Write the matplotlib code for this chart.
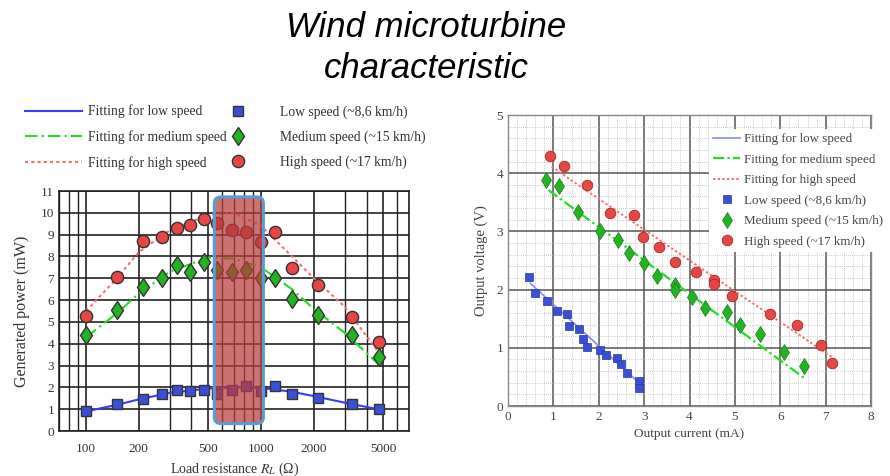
import numpy as np
import matplotlib
matplotlib.use("Agg")
import matplotlib.pyplot as plt
from matplotlib.patches import FancyBboxPatch
from matplotlib.ticker import FixedLocator, NullFormatter, MultipleLocator

plt.rcParams['mathtext.fontset'] = 'stix'

# ---------------- Left chart data ----------------
R = [100, 150, 210, 270, 330, 390, 470, 560, 680, 820, 1000, 1200, 1500, 2100, 3300, 4700]
P_low = [0.92, 1.25, 1.45, 1.71, 1.90, 1.82, 1.90, 1.71, 1.87, 2.05, 1.82, 2.05, 1.71, 1.53, 1.22, 1.02]
P_med = [4.39, 5.53, 6.60, 7.02, 7.60, 7.29, 7.75, 7.40, 7.30, 7.40, 7.03, 7.02, 6.07, 5.34, 4.42, 3.39]
P_high = [5.26, 7.06, 8.70, 8.90, 9.31, 9.43, 9.74, 9.54, 9.20, 9.10, 8.67, 9.13, 7.49, 6.68, 5.23, 4.08]

R_fit = [100, 150, 200, 300, 500, 700, 1000, 1500, 2000, 3000, 5000]
Pfit_low = [0.90, 1.20, 1.45, 1.75, 1.95, 2.00, 1.98, 1.80, 1.60, 1.30, 0.95]
Pfit_med = [4.30, 5.40, 6.30, 7.30, 7.95, 7.90, 7.50, 6.50, 5.60, 4.50, 2.85]
Pfit_high = [5.50, 7.00, 8.20, 9.20, 9.90, 10.00, 9.40, 8.00, 7.00, 5.70, 3.30]

R_ticks = [100, 200, 500, 1000, 2000, 5000]
R_tick_labels = ["100", "200", "500", "1000", "2000", "5000"]
highlight_R = [540, 1030]
highlight_P = [0.34, 10.73]

# ---------------- Right chart data ----------------
I_low = [0.47, 0.60, 0.85, 1.07, 1.31, 1.35, 1.57, 1.66, 1.74, 2.02, 2.16, 2.40, 2.49, 2.62, 2.88, 2.88]
V_low = [2.22, 1.95, 1.81, 1.63, 1.58, 1.37, 1.32, 1.16, 1.01, 0.97, 0.88, 0.82, 0.73, 0.56, 0.43, 0.31]
I_med = [0.84, 1.13, 1.55, 2.02, 2.42, 2.67, 2.99, 3.28, 3.69, 3.69, 4.06, 4.33, 4.83, 5.11, 5.56, 6.09, 6.53]
V_med = [3.88, 3.78, 3.34, 3.00, 2.85, 2.63, 2.45, 2.23, 2.08, 2.00, 1.88, 1.68, 1.61, 1.39, 1.23, 0.93, 0.68]
I_high = [0.93, 1.24, 1.75, 2.25, 2.77, 2.97, 3.32, 3.69, 4.15, 4.55, 4.55, 4.94, 5.78, 6.36, 6.90, 7.13]
V_high = [4.30, 4.12, 3.79, 3.31, 3.28, 2.91, 2.73, 2.48, 2.30, 2.16, 2.10, 1.89, 1.58, 1.39, 1.05, 0.74]

Ifit_low = [0.49, 2.90]
Vfit_low = [2.11, 0.39]
Ifit_med = [0.89, 6.53]
Vfit_med = [3.71, 0.48]
Ifit_high = [0.96, 7.18]
Vfit_high = [4.11, 0.82]

fit_labels = ["Fitting for low speed", "Fitting for medium speed", "Fitting for high speed"]
point_labels = ["Low speed (~8,6 km/h)", "Medium speed (~15 km/h)", "High speed (~17 km/h)"]

# colours
C_LOW = "#3b4fd6"
C_MED = "#22b322"
C_HIGH = "#e84545"
L_LOW = "#3b3bff"
L_MED = "#22dd22"
L_HIGH = "#ff6b6b"

serif = ["Liberation Serif", "DejaVu Serif"]

fig = plt.figure(figsize=(8.9, 4.76), dpi=100)

fig.text(0.479, 0.943, "Wind microturbine", ha="center", va="center",
         fontsize=25, style="italic", family="Liberation Sans")
fig.text(0.479, 0.857, "characteristic", ha="center", va="center",
         fontsize=25, style="italic", family="Liberation Sans")

# ================= Left axes =================
axL = fig.add_axes([0.0663, 0.0945, 0.3933, 0.5042])
axL.set_xscale("log")
axL.set_xlim(70, 7000)
axL.set_ylim(0, 11)

minor_locs = [70, 80, 90, 100, 200, 300, 400, 500, 600, 700, 800, 900, 1000,
              2000, 3000, 4000, 5000, 6000, 7000]
axL.xaxis.set_minor_locator(FixedLocator(minor_locs))
axL.xaxis.set_minor_formatter(NullFormatter())
axL.set_xticks(R_ticks)
axL.set_xticklabels(R_tick_labels)
axL.yaxis.set_major_locator(MultipleLocator(1))
axL.grid(True, which="minor", axis="x", color="#222222", lw=1.0)
axL.grid(True, which="major", axis="both", color="#222222", lw=1.2)
axL.tick_params(which="both", length=0, labelsize=9.5, colors="#333333")
axL.tick_params(axis="x", pad=8.5)
for lab in axL.get_xticklabels() + axL.get_yticklabels():
    lab.set_family(serif)
for s in axL.spines.values():
    s.set_color("#222222")
    s.set_linewidth(1.2)
axL.set_axisbelow(True)

lf1, = axL.plot(R_fit, Pfit_low, color=L_LOW, lw=1.5, ls="-", zorder=3)
lf2, = axL.plot(R_fit, Pfit_med, color=L_MED, lw=1.5, ls=(0, (6, 2, 1, 2)), zorder=3)
lf3, = axL.plot(R_fit, Pfit_high, color=L_HIGH, lw=1.5, ls=(0, (1.5, 1.5)), zorder=3)
m1, = axL.plot(R, P_low, ls="none", marker="s", ms=7, color=C_LOW, mec="#333333", mew=1.0, zorder=4)
m2, = axL.plot(R, P_med, ls="none", marker="d", ms=9.5, color=C_MED, mec="#333333", mew=1.0, zorder=4)
m3, = axL.plot(R, P_high, ls="none", marker="o", ms=8.8, color=C_HIGH, mec="#333333", mew=1.0, zorder=4)

# highlighted region (rounded box) - convert data to axes fraction
lx0, lx1 = np.log10(axL.get_xlim())
fx0 = (np.log10(highlight_R[0]) - lx0) / (lx1 - lx0)
fx1 = (np.log10(highlight_R[1]) - lx0) / (lx1 - lx0)
fy0 = highlight_P[0] / 11.0
fy1 = highlight_P[1] / 11.0
box = FancyBboxPatch((fx0, fy0), fx1 - fx0, fy1 - fy0,
                     boxstyle="round,pad=0,rounding_size=0.02",
                     transform=axL.transAxes, facecolor="#b83c3c", alpha=0.72,
                     edgecolor="none", zorder=5, mutation_aspect=1.3)
axL.add_patch(box)
box2 = FancyBboxPatch((fx0, fy0), fx1 - fx0, fy1 - fy0,
                      boxstyle="round,pad=0,rounding_size=0.02",
                      transform=axL.transAxes, facecolor="none",
                      edgecolor="#5b9bd5", lw=2.2, zorder=6, mutation_aspect=1.3)
axL.add_patch(box2)

axL.set_ylabel("Generated power (mW)", family=serif, fontsize=11.5, color="#333333", labelpad=8)
axL.set_xlabel(r"Load resistance $R_L$ (Ω)", family=serif, fontsize=10, color="#333333", labelpad=4)

legL1 = fig.legend([lf1, lf2, lf3], fit_labels,
                   loc="center left", bbox_to_anchor=(0.028, 0.712), frameon=False,
                   prop={"family": serif, "size": 9.8}, handlelength=4.2,
                   labelspacing=0.87, handletextpad=0.45, borderpad=0, borderaxespad=0)
legL2 = fig.legend([m1, m2, m3], point_labels,
                   loc="center left", bbox_to_anchor=(0.256, 0.712), frameon=False,
                   prop={"family": serif, "size": 9.8}, handlelength=1.5,
                   labelspacing=0.87, handletextpad=2.3, borderpad=0, borderaxespad=0)
for lg in (legL1, legL2):
    for t in lg.get_texts():
        t.set_color("#333333")

# ================= Right axes =================
axR = fig.add_axes([0.5708, 0.147, 0.4079, 0.6114])
axR.set_xlim(0, 8)
axR.set_ylim(0, 5)
axR.xaxis.set_major_locator(MultipleLocator(1))
axR.yaxis.set_major_locator(MultipleLocator(1))
axR.xaxis.set_minor_locator(MultipleLocator(0.2))
axR.yaxis.set_minor_locator(MultipleLocator(0.2))
axR.grid(True, which="minor", color="#bbbbbb", lw=0.6, ls=(0, (1, 1.5)))
axR.grid(True, which="major", color="#555555", lw=1.1)
axR.tick_params(which="both", length=0, labelsize=9.5, colors="#444444")
for lab in axR.get_xticklabels() + axR.get_yticklabels():
    lab.set_family(serif)
for s in axR.spines.values():
    s.set_color("#888888")
    s.set_linewidth(1.0)
axR.set_axisbelow(True)

rf1, = axR.plot(Ifit_low, Vfit_low, color="#8888ff", lw=1.2, ls="-", zorder=3)
rf2, = axR.plot(Ifit_med, Vfit_med, color=L_MED, lw=1.6, ls=(0, (5, 1.5, 1, 1.5)), zorder=3)
rf3, = axR.plot(Ifit_high, Vfit_high, color=L_HIGH, lw=1.4, ls=(0, (1.2, 1.2)), zorder=3)
rm1, = axR.plot(I_low, V_low, ls="none", marker="s", ms=5.5, color=C_LOW, mec="#2a3aa0", mew=0.5, zorder=4)
rm2, = axR.plot(I_med, V_med, ls="none", marker="d", ms=8, color=C_MED, mec="#1a7a1a", mew=0.5, zorder=4)
rm3, = axR.plot(I_high, V_high, ls="none", marker="o", ms=7.6, color=C_HIGH, mec="#a02a2a", mew=0.6, zorder=4)

axR.set_ylabel("Output voltage (V)", family=serif, fontsize=10.5, color="#444444", labelpad=6)
axR.set_xlabel("Output current (mA)", family=serif, fontsize=9.5, color="#444444", labelpad=4)

legR = fig.legend([rf1, rf2, rf3, rm1, rm2, rm3], fit_labels + point_labels,
                  loc="center left", bbox_to_anchor=((713 - 4) / 890, 0.5998), frameon=True,
                  prop={"family": serif, "size": 9.4}, handlelength=2.1,
                  labelspacing=0.64, handletextpad=0.3, borderpad=0.3, borderaxespad=0,
                  fancybox=False)
legR.get_frame().set_edgecolor("none")
legR.get_frame().set_facecolor("white")
legR.get_frame().set_alpha(1.0)
for t in legR.get_texts():
    t.set_color("#444444")

fig.savefig("out.png", dpi=100)
